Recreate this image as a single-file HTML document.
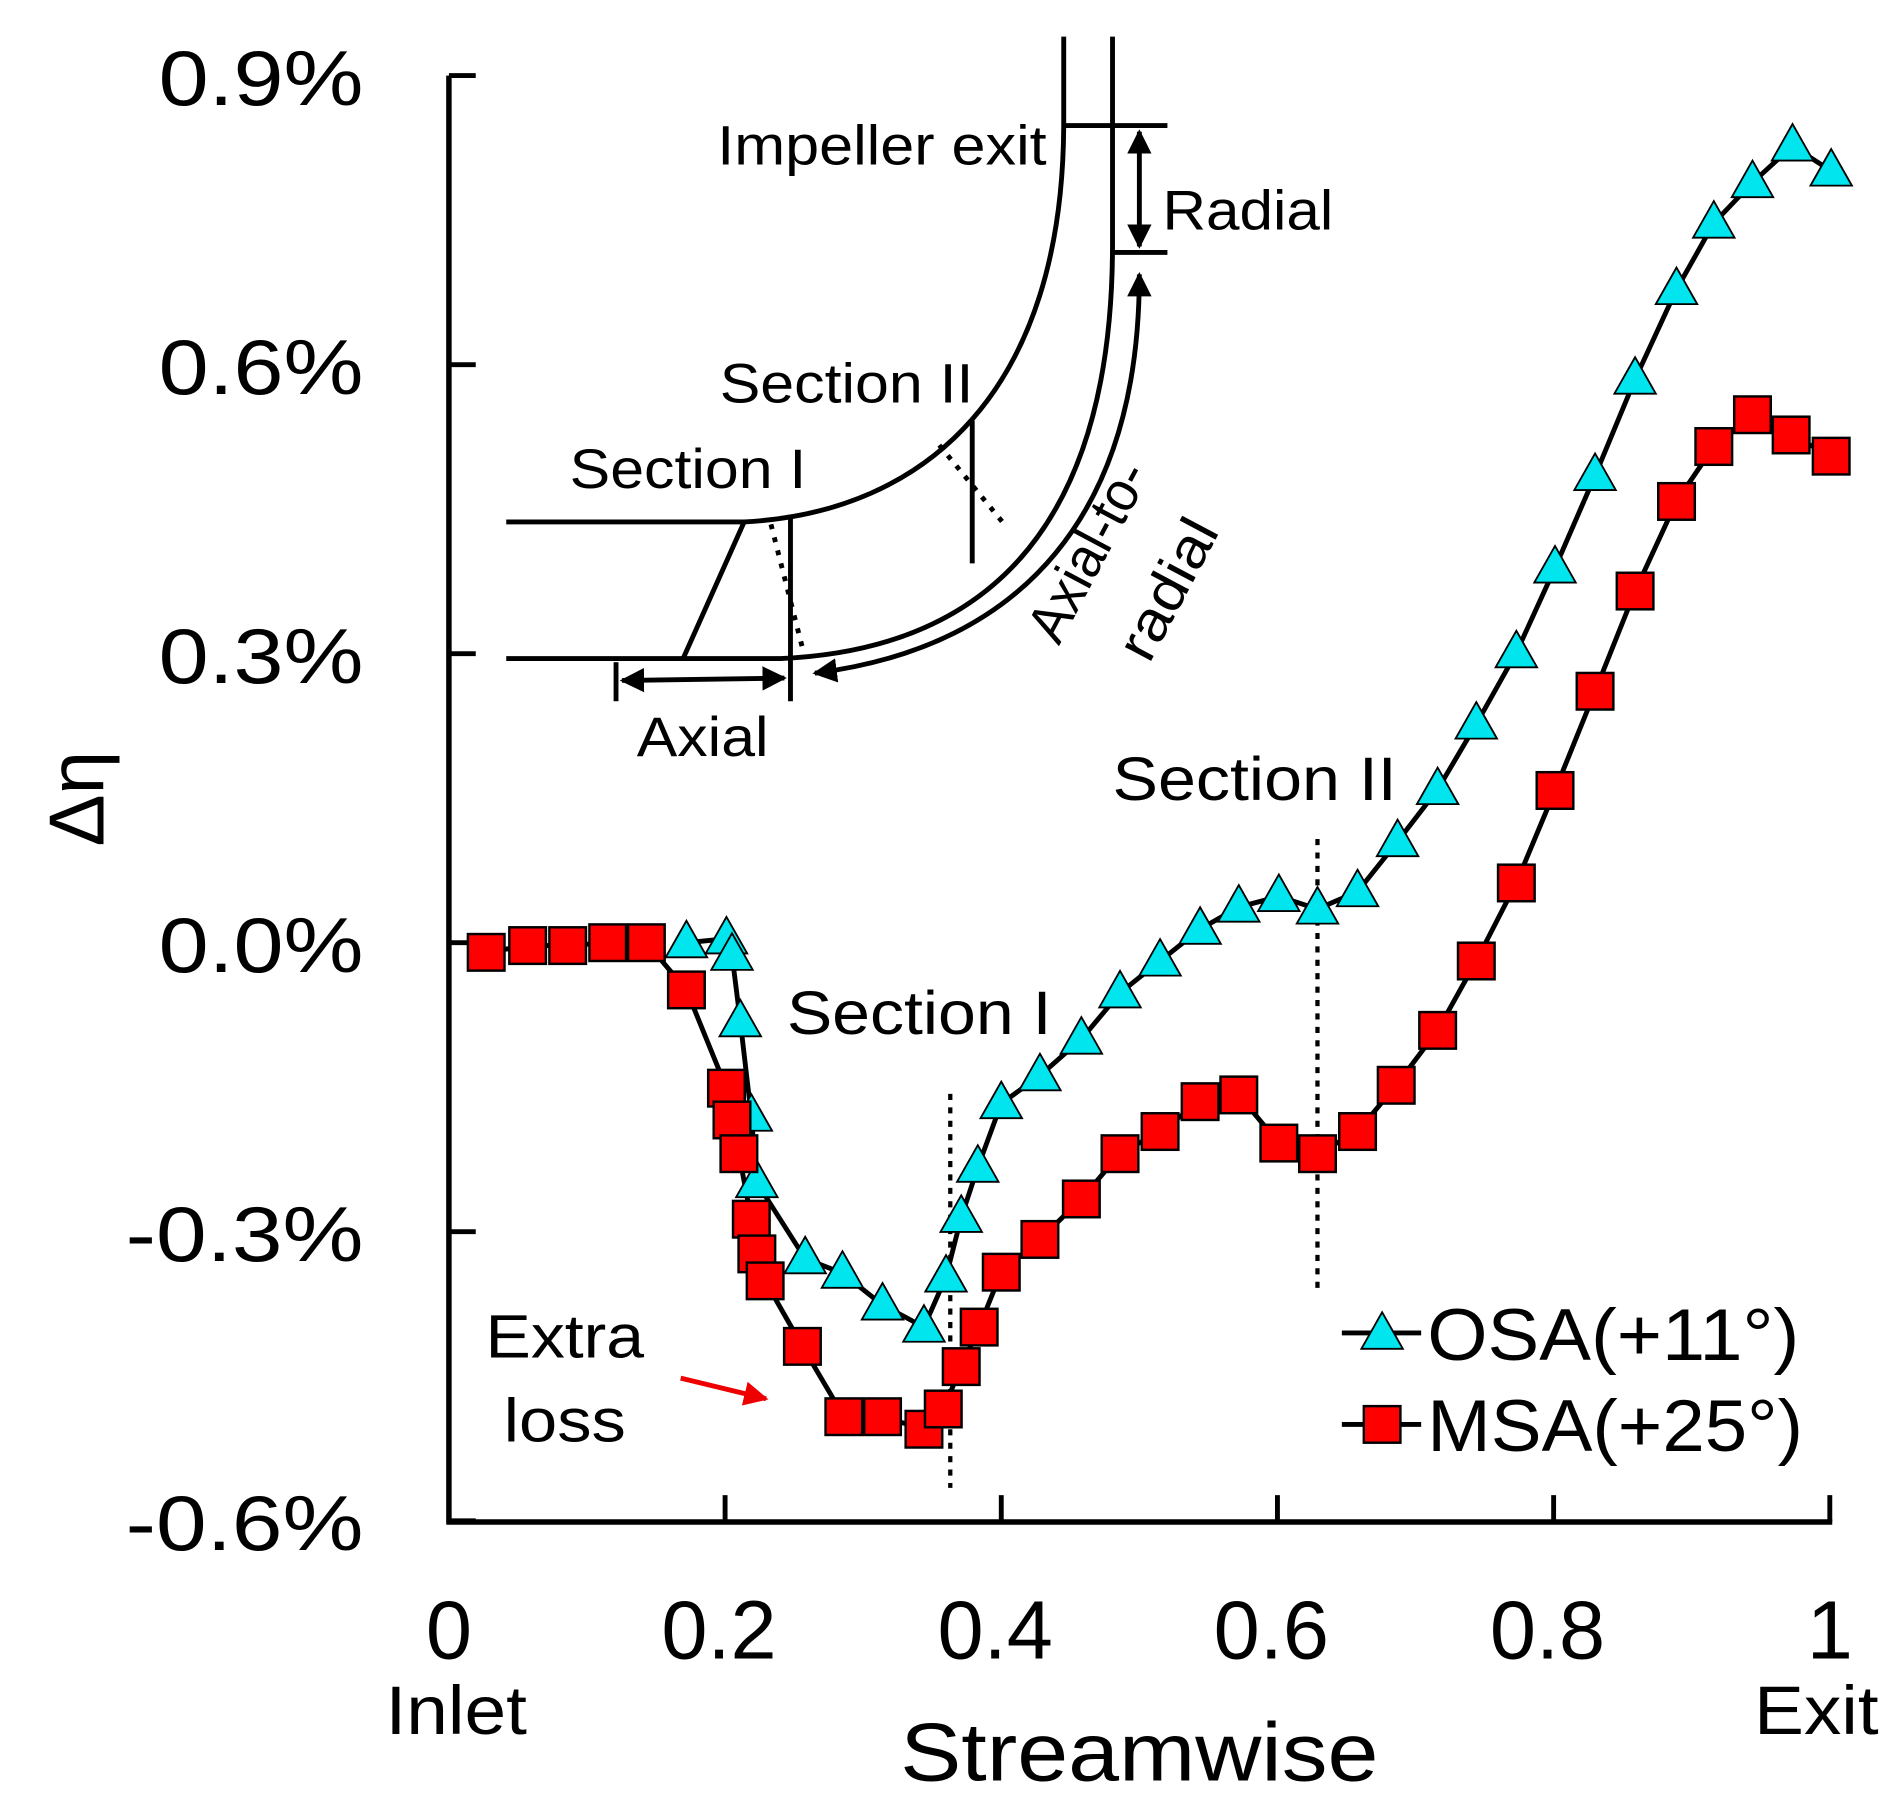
<!DOCTYPE html>
<html><head><meta charset="utf-8"><style>
html,body{margin:0;padding:0;background:#fff;}
svg{display:block;}
text{font-family:"Liberation Sans",Arial,sans-serif;fill:#000;}
</style></head><body>
<svg id="chart" width="1903" height="1811" viewBox="0 0 1560 1485" preserveAspectRatio="none" xmlns="http://www.w3.org/2000/svg">
<defs>
<marker id="ah" viewBox="0 0 10 10" refX="9" refY="5" markerWidth="5" markerHeight="5" orient="auto-start-reverse"><path d="M0,0 L10,5 L0,10 z" fill="#000"/></marker>
<marker id="rh" viewBox="0 0 10 10" refX="9" refY="5" markerWidth="5" markerHeight="5" orient="auto"><path d="M0,0 L10,5 L0,10 z" fill="#e00"/></marker>
</defs>
<g id="axes"></g>
<g id="inset" fill="none" stroke="#000" stroke-width="4">
<path d="M415,428 L610,428 C760,420 872,320 872,100 L872,30"/>
<path d="M415,540 L640,540 C820,532 912,420 912,200 L912,30"/>
<path d="M668,552 C840,530 934,420 934,225" marker-start="url(#ah)" marker-end="url(#ah)"/>
<line x1="872" y1="103" x2="957" y2="103"/>
<line x1="912" y1="207" x2="957" y2="207"/>
<line x1="934" y1="108" x2="934" y2="202" marker-start="url(#ah)" marker-end="url(#ah)"/>
<line x1="610" y1="428" x2="560" y2="540"/>
<line x1="648" y1="422" x2="648" y2="575"/>
<line x1="632" y1="430" x2="658" y2="532" stroke-dasharray="4,7"/>
<line x1="505" y1="543" x2="505" y2="575"/>
<line x1="510" y1="558" x2="643" y2="556" marker-start="url(#ah)" marker-end="url(#ah)"/>
<line x1="797" y1="345" x2="797" y2="462"/>
<line x1="770" y1="365" x2="825" y2="432" stroke-dasharray="4,7"/>
</g>
<g font-size="46">
<text x="588" y="135" textLength="270" lengthAdjust="spacingAndGlyphs">Impeller exit</text>
<text x="953" y="188" textLength="140" lengthAdjust="spacingAndGlyphs">Radial</text>
<text x="590" y="330" textLength="208" lengthAdjust="spacingAndGlyphs">Section II</text>
<text x="467" y="400" textLength="194" lengthAdjust="spacingAndGlyphs">Section I</text>
<text x="522" y="620" textLength="108" lengthAdjust="spacingAndGlyphs">Axial</text>
<text transform="translate(868,530) rotate(-62)" textLength="160" lengthAdjust="spacingAndGlyphs">Axial-to-</text>
<text transform="translate(942,545) rotate(-62)" textLength="124" lengthAdjust="spacingAndGlyphs">radial</text>
</g>
<g font-size="50">
<text x="645" y="848" textLength="217" lengthAdjust="spacingAndGlyphs">Section I</text>
<text x="912" y="656" textLength="233" lengthAdjust="spacingAndGlyphs">Section II</text>
<text x="398" y="1113" textLength="130" lengthAdjust="spacingAndGlyphs">Extra</text>
<text x="413" y="1182" textLength="100" lengthAdjust="spacingAndGlyphs">loss</text>
</g>
<line x1="558" y1="1130" x2="628" y2="1147" stroke="#e00" stroke-width="4" marker-end="url(#rh)"/>
<line x1="779" y1="897" x2="779" y2="1220" stroke="#000" stroke-width="3.5" stroke-dasharray="5,6"/>
<line x1="1080" y1="688" x2="1080" y2="1057" stroke="#000" stroke-width="3.5" stroke-dasharray="5,6"/>
<g id="series"></g>
<g id="legend">
<line x1="1100" y1="1093" x2="1165" y2="1093" stroke="#000" stroke-width="4"/>
<polygon points="1133,1076 1150,1106 1116,1106" fill="#00e5ee" stroke="#000" stroke-width="1.5"/>
<text x="1170" y="1115" font-size="60" textLength="305" lengthAdjust="spacingAndGlyphs">OSA(+11°)</text>
<line x1="1100" y1="1168" x2="1165" y2="1168" stroke="#000" stroke-width="4"/>
<rect x="1118" y="1153" width="30" height="30" fill="#f00" stroke="#000" stroke-width="2"/>
<text x="1170" y="1190" font-size="60" textLength="308" lengthAdjust="spacingAndGlyphs">MSA(+25°)</text>
</g>
</svg>
<script>
const xTicks = [0, 0.2, 0.4, 0.6, 0.8, 1];
const xTickLabels = ["0", "0.2", "0.4", "0.6", "0.8", "1"];
const yTicks = [0.9, 0.6, 0.3, 0.0, -0.3, -0.6];
const yTickLabels = ["0.9%", "0.6%", "0.3%", "0.0%", "-0.3%", "-0.6%"];
const msaX = [0.027,0.057,0.086,0.115,0.143,0.172,0.201,0.205,0.210,0.219,0.223,0.229,0.256,0.286,0.314,0.344,0.358,0.371,0.384,0.400,0.428,0.458,0.486,0.515,0.544,0.572,0.601,0.629,0.658,0.686,0.716,0.744,0.773,0.801,0.830,0.859,0.889,0.916,0.944,0.972,1.001];
const msaY = [-0.010,-0.003,-0.003,0.000,0.000,-0.049,-0.151,-0.184,-0.219,-0.287,-0.323,-0.351,-0.419,-0.492,-0.492,-0.505,-0.484,-0.440,-0.399,-0.342,-0.308,-0.266,-0.219,-0.196,-0.165,-0.158,-0.208,-0.219,-0.196,-0.148,-0.091,-0.019,0.062,0.158,0.261,0.365,0.458,0.515,0.548,0.527,0.505];
const osaX = [0.172,0.201,0.205,0.211,0.219,0.223,0.258,0.285,0.314,0.344,0.360,0.371,0.383,0.400,0.428,0.458,0.486,0.515,0.544,0.572,0.601,0.629,0.658,0.687,0.716,0.744,0.773,0.801,0.830,0.859,0.889,0.916,0.944,0.973,1.001];
const osaY = [0.000,0.004,-0.013,-0.082,-0.180,-0.249,-0.328,-0.343,-0.376,-0.399,-0.347,-0.285,-0.233,-0.167,-0.138,-0.100,-0.052,-0.019,0.014,0.037,0.048,0.035,0.053,0.105,0.159,0.227,0.301,0.389,0.485,0.585,0.678,0.747,0.789,0.827,0.801];

const NS = "http://www.w3.org/2000/svg";
const X0 = 368, X1 = 1500, Y0 = 773, PER = 237 / 0.3;
function sx(v){ return X0 + v * (X1 - X0); }
function sy(v){ return Y0 - v * PER; }
function mk(tag, attrs, parent){ const e = document.createElementNS(NS, tag); for (const k in attrs) e.setAttribute(k, attrs[k]); parent.appendChild(e); return e; }

const axes = document.getElementById("axes");
let el;
el = mk("line", {x1: X0, y1: sy(0.9), x2: X0, y2: 1250, stroke: "#000", "stroke-width": 4.5}, axes);


el = mk("line", {x1: X0 - 2, y1: 1248, x2: X1 + 2, y2: 1248, stroke: "#000", "stroke-width": 4.5}, axes);


yTicks.forEach((t, i) => {
  const y = sy(t);
  let tk = mk("line", {x1: X0, y1: y, x2: X0 + 22, y2: y, stroke: "#000", "stroke-width": 4}, axes);
  
  
  let tx = mk("text", {x: 298, y: y + 24, "text-anchor": "end", "font-size": 64, textLength: yTickLabels[i].length > 4 ? 195 : 168, lengthAdjust: "spacingAndGlyphs"}, axes);
  tx.textContent = yTickLabels[i];
  
  
});
xTicks.forEach((t, i) => {
  const x = sx(t);
  if (t > 0) {
    let tk = mk("line", {x1: x, y1: 1248, x2: x, y2: 1226, stroke: "#000", "stroke-width": 4}, axes);
    
    
  }
  let tx = mk("text", {x: x - (t > 0 && t < 1 ? 5 : 0), y: 1360, "text-anchor": "middle", "font-size": 68}, axes);
  tx.textContent = xTickLabels[i];
  
  
});
el = mk("text", {x: 374, y: 1422, "text-anchor": "middle", "font-size": 56, textLength: 116, lengthAdjust: "spacingAndGlyphs"}, axes);
el.textContent = "Inlet";


el = mk("text", {x: 1489, y: 1422, "text-anchor": "middle", "font-size": 56, textLength: 102, lengthAdjust: "spacingAndGlyphs"}, axes);
el.textContent = "Exit";


el = mk("text", {x: 934, y: 1460, "text-anchor": "middle", "font-size": 68, textLength: 392, lengthAdjust: "spacingAndGlyphs"}, axes);
el.textContent = "Streamwise";


el = mk("text", {x: 0, y: 0, "text-anchor": "middle", "font-size": 64, transform: "translate(85,655) rotate(-90)"}, axes);
el.textContent = "Δη";



const series = document.getElementById("series");
function linePath(xs, ys){ return xs.map((v, i) => (i ? "L" : "M") + sx(v).toFixed(1) + "," + sy(ys[i]).toFixed(1)).join(" "); }
el = mk("path", {d: linePath(osaX, osaY), fill: "none", stroke: "#000", "stroke-width": 4}, series);


el = mk("path", {d: linePath(msaX, msaY), fill: "none", stroke: "#000", "stroke-width": 4}, series);


osaX.forEach((v, i) => {
  const cx = sx(v), cy = sy(osaY[i]);
  const p = mk("polygon", {points: `${cx},${cy - 18} ${cx + 17},${cy + 12} ${cx - 17},${cy + 12}`, fill: "#00e5ee", stroke: "#000", "stroke-width": 1.5}, series);
  
  
});
msaX.forEach((v, i) => {
  const cx = sx(v), cy = sy(msaY[i]);
  const r = mk("rect", {x: cx - 15, y: cy - 15, width: 30, height: 30, fill: "#f00", stroke: "#000", "stroke-width": 2}, series);
  
  
});
</script>
</body></html>
